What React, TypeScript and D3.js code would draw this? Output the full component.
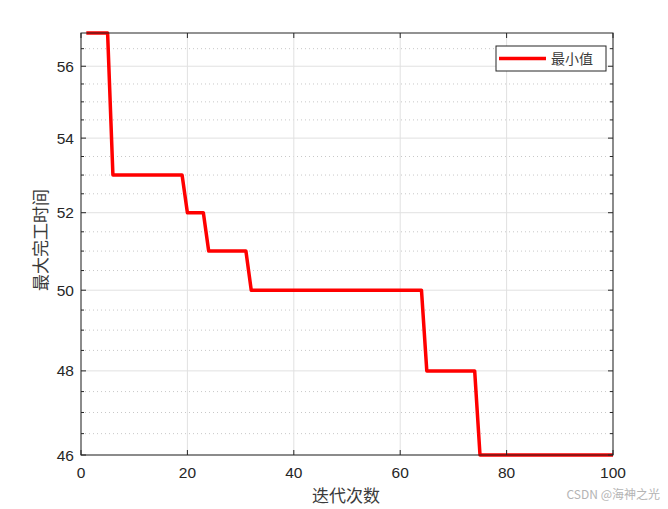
import React from "react";
import * as d3 from "d3";

const iterations: number[] = [1, 5, 6, 19, 20, 23, 24, 31, 32, 64, 65, 74, 75, 100];
const minValues: number[] = [56.95, 56.95, 53, 53, 52, 52, 51, 51, 50, 50, 48, 48, 46, 46];
const xTicks: number[] = [0, 20, 40, 60, 80, 100];
const yTicks: number[] = [46, 48, 50, 52, 54, 56];
const yMinorTicks: number[] = [46.5, 47, 47.5, 48.5, 49, 49.5, 50.5, 51, 51.5, 52.5, 53, 53.5, 54.5, 55, 55.5, 56.5];
const legendLabel = "最小值";
const xLabel = "迭代次数";
const yLabel = "最大完工时间";
const watermark = "CSDN @海神之光";

export default function App() {
  const W = 668, H = 509;
  const left = 81, right = 613, top = 33, bottom = 455;
  const x = d3.scaleLinear().domain([0, 100]).range([left, right]);
  const y = d3.scaleLog().domain([46, 56.95]).range([bottom, top]);
  const pts: [number, number][] = iterations.map((it, i) => [it, minValues[i]]);
  const line = d3.line<[number, number]>().x(d => x(d[0])).y(d => y(d[1]));
  const tickFont = "'Liberation Sans', Arial, sans-serif";
  const cjk = "'Noto Sans CJK SC', sans-serif";
  const axisColor = "#262626";
  return (
    <svg width={W} height={H} style={{ position: "absolute", left: 0, top: 0, background: "#fff" }}>
      <rect x={0} y={0} width={W} height={H} fill="#fff" />
      {yMinorTicks.map(v => (
        <line key={"mg" + v} x1={left} x2={right} y1={y(v)} y2={y(v)} stroke="#c8c8c8" strokeWidth={1} strokeDasharray="1,3" />
      ))}
      {yTicks.map(v => (
        <line key={"yg" + v} x1={left} x2={right} y1={y(v)} y2={y(v)} stroke="#e1e1e1" strokeWidth={1} />
      ))}
      {xTicks.map(v => (
        <line key={"xg" + v} x1={x(v)} x2={x(v)} y1={top} y2={bottom} stroke="#e1e1e1" strokeWidth={1} />
      ))}
      <path d={line(pts) || ""} fill="none" stroke="#ff0000" strokeWidth={3.5} strokeLinejoin="round" />
      <rect x={left} y={top} width={right - left} height={bottom - top} fill="none" stroke={axisColor} strokeWidth={1} />
      {xTicks.map(v => (
        <g key={"xt" + v}>
          <line x1={x(v)} x2={x(v)} y1={bottom} y2={bottom - 5} stroke={axisColor} />
          <line x1={x(v)} x2={x(v)} y1={top} y2={top + 5} stroke={axisColor} />
          <text x={x(v)} y={bottom + 23} textAnchor="middle" fontFamily={tickFont} fontSize={15.5} fill={axisColor}>{v}</text>
        </g>
      ))}
      {yTicks.map(v => (
        <g key={"yt" + v}>
          <line x1={left} x2={left + 5} y1={y(v)} y2={y(v)} stroke={axisColor} />
          <line x1={right} x2={right - 5} y1={y(v)} y2={y(v)} stroke={axisColor} />
          <text x={left - 7} y={y(v) + 5.5} textAnchor="end" fontFamily={tickFont} fontSize={15.5} fill={axisColor}>{v}</text>
        </g>
      ))}
      {yMinorTicks.map(v => (
        <g key={"ym" + v}>
          <line x1={left} x2={left + 3} y1={y(v)} y2={y(v)} stroke={axisColor} />
          <line x1={right} x2={right - 3} y1={y(v)} y2={y(v)} stroke={axisColor} />
        </g>
      ))}
      <text x={346} y={502} textAnchor="middle" fontFamily={cjk} fontSize={17} fill="#3a3a3a">{xLabel}</text>
      <text transform={`translate(47,${240}) rotate(-90)`} textAnchor="middle" fontFamily={cjk} fontSize={17} fill="#3a3a3a">{yLabel}</text>
      <rect x={496} y={46} width={110} height={25} fill="#fff" stroke={axisColor} strokeWidth={1} />
      <line x1={499} x2={546} y1={58.5} y2={58.5} stroke="#ff0000" strokeWidth={3.5} />
      <text x={551} y={64} fontFamily={cjk} fontSize={14} fill="#3a3a3a">{legendLabel}</text>
      <text x={660} y={499} textAnchor="end" fontFamily={cjk} fontSize={12} fill="#b4b4b4">{watermark}</text>
    </svg>
  );
}
